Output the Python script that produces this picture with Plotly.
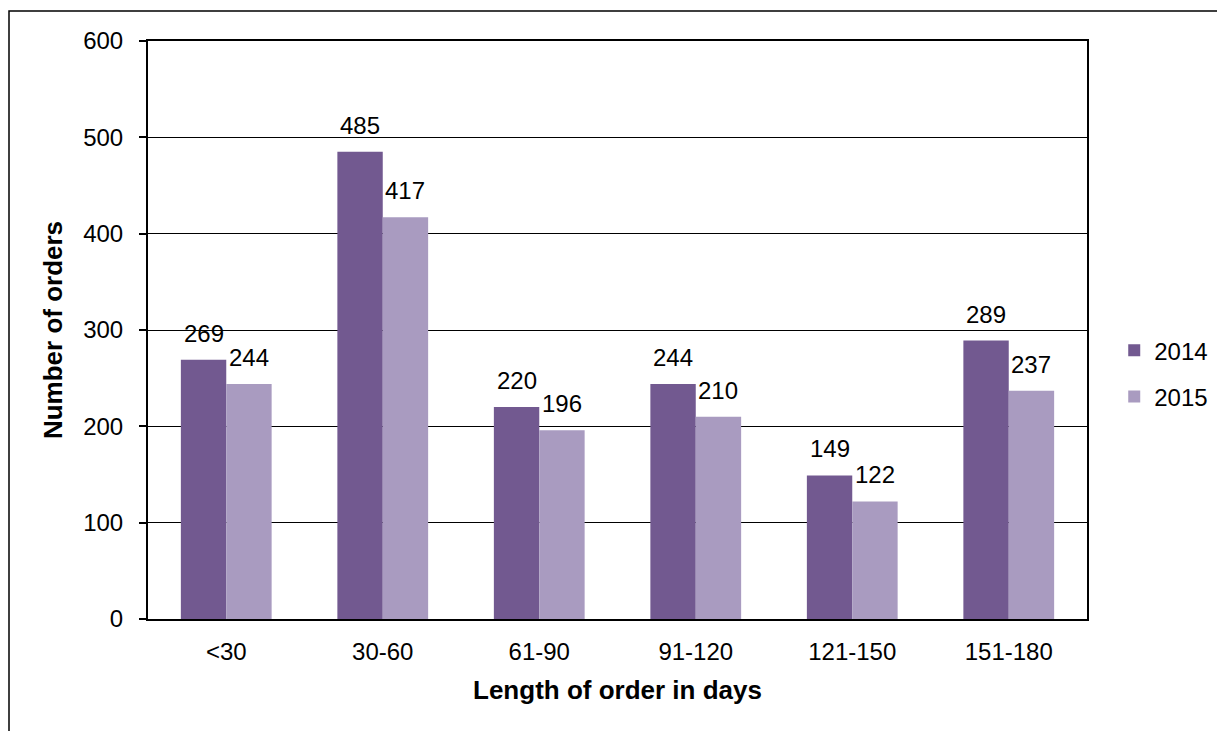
import plotly.graph_objects as go

categories = ["<30", "30-60", "61-90", "91-120", "121-150", "151-180"]
orders_2014 = [269, 485, 220, 244, 149, 289]
orders_2015 = [244, 417, 196, 210, 122, 237]
y_ticks = [0, 100, 200, 300, 400, 500, 600]

W, H = 1225, 731
# figure pixel coords (page coords minus the 8px body margin)
L, R, T, B = 140, 1079, 33, 611
BARGAP = 0.42

FONT = "Liberation Sans, Arial, sans-serif"
COL14 = "#725990"
COL15 = "#A99BC0"

fig = go.Figure()
fig.add_trace(go.Bar(
    x=categories, y=orders_2014, name="2014",
    marker=dict(color=COL14, line=dict(width=0)),
    legendgroup="a",
))
fig.add_trace(go.Bar(
    x=categories, y=orders_2015, name="2015",
    marker=dict(color=COL15, line=dict(width=0)),
    legendgroup="b",
))

cat_w = (R - L) / len(categories)
bar_w = cat_w * (1 - BARGAP) / 2
annotations = []
for series, shift in ((orders_2014, -bar_w / 2), (orders_2015, bar_w / 2)):
    for c, v in zip(categories, series):
        annotations.append(dict(
            x=c, y=v, xref="x", yref="y", text=str(v), showarrow=False,
            xanchor="center", yanchor="bottom", xshift=shift, yshift=11,
            font=dict(size=24, color="black", family=FONT),
        ))

fig.update_layout(
    width=W, height=H,
    margin=dict(l=L, r=W - R, t=T, b=H - B),
    paper_bgcolor="white", plot_bgcolor="white",
    font=dict(family=FONT, size=24, color="black"),
    barmode="group", bargap=BARGAP, bargroupgap=0,
    showlegend=True,
    legend=dict(x=1.029, y=0.503, xanchor="left", yanchor="top",
                font=dict(size=24), traceorder="grouped", tracegroupgap=12,
                itemwidth=30, bgcolor="rgba(0,0,0,0)"),
    xaxis=dict(
        showline=True, linecolor="black", linewidth=2, mirror=True,
        ticks="", showgrid=False,
        tickfont=dict(size=24), ticklabelstandoff=10,
        title=dict(text="<b>Length of order in days</b>", font=dict(size=26), standoff=17),
    ),
    yaxis=dict(
        range=[0, 600], tickvals=y_ticks,
        showline=True, linecolor="black", linewidth=2, mirror=True,
        ticks="outside", ticklen=7, tickcolor="black", tickwidth=1.5,
        showgrid=True, gridcolor="black", gridwidth=1.3,
        tickfont=dict(size=24), ticklabelstandoff=11,
        title=dict(text="<b>Number of orders</b>", font=dict(size=26), standoff=13),
        zeroline=False,
    ),
    annotations=annotations,
    shapes=[dict(
        type="rect", xref="paper", yref="paper",
        x0=(1 - L) / (R - L), x1=(1240 - L) / (R - L),
        y0=(B - 760) / (B - T), y1=(B - 3) / (B - T),
        line=dict(color="black", width=1.5), fillcolor="rgba(0,0,0,0)",
        layer="below",
    )],
)

fig.write_html("out.html")
